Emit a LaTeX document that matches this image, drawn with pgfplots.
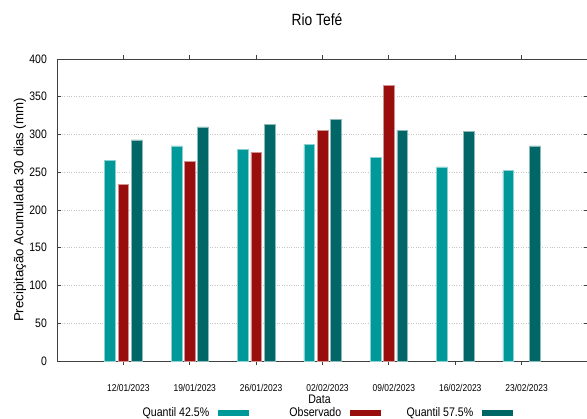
\documentclass[border=0pt]{standalone}
\usepackage{fontspec}
\setmainfont{Liberation Sans}[FakeStretch=0.85]
\newfontfamily\ylabfont{Liberation Sans}
\usepackage{pgfplots}
\pgfplotsset{compat=1.18}

\definecolor{qlow}{HTML}{009999}
\definecolor{obs}{HTML}{990D0D}
\definecolor{qhigh}{HTML}{006666}
\definecolor{axisgray}{HTML}{404040}

\begin{document}
\begin{tikzpicture}
\begin{axis}[
  scale only axis,
  width=531bp, height=302bp,
  xmin=-1, xmax=7,
  ymin=0, ymax=400,
  ytick={0,50,...,400},
  xtick={0,...,6},
  xticklabels={12/01/2023,19/01/2023,26/01/2023,02/02/2023,09/02/2023,16/02/2023,23/02/2023},
  tick align=inside,
  major tick length=4bp,
  tick style={axisgray, line width=0.8bp},
  axis line style={axisgray, line width=0.9bp},
  ymajorgrids,
  grid style={gray!45, dotted, line width=0.8bp},
  /pgf/number format/assume math mode=true,
  ticklabel style={inner sep=0pt},
  yticklabel style={font=\fontsize{12.3}{14}\selectfont, anchor=east, xshift=-10bp},
  xticklabel style={font=\fontsize{10}{11}\selectfont, anchor=center, yshift=-22.5bp, xshift=5bp},
  ybar=2.6bp,
  bar width=10.7bp,
  every axis plot post/.append style={
    legend image code/.code={
      \fill[##1,draw=none] (0bp,-3bp) rectangle (31bp,3bp);}},
  title={Rio Tefé},
  title style={font=\fontsize{16.3}{18}\selectfont, at={(axis description cs:0.4896,1.0927)}, anchor=base, inner sep=0pt},
  xlabel={Data},
  xlabel style={font=\fontsize{12.5}{14}\selectfont, at={(axis description cs:0.4944,-0.1258)}, anchor=center, inner sep=0pt},
  ylabel={Precipitação Acumulada 30 dias (mm)},
  ylabel style={font=\ylabfont\fontsize{13.3}{15}\selectfont, at={(axis description cs:-0.0697,0.5)}, anchor=center, inner sep=0pt},
  legend columns=3,
  legend plot pos=right,
  legend style={draw=none, fill=none, inner sep=0pt, column sep=0pt,
    nodes={inner sep=0pt}, font=\fontsize{12.5}{14}\selectfont,
    at={(axis description cs:0.113,-0.172)}, anchor=west},
]

% Quantil 42.5%
\addplot[fill=qlow, draw=qlow!45!white, line width=0.5bp] coordinates {
  (0,266) (1,285) (2,280) (3,286.5) (4,270) (5,257) (6,252)
};
\addlegendentry{\makebox[101bp][r]{Quantil 42.5\%\hspace{9bp}}}

% Observado
\addplot[fill=obs, draw=obs!45!white, line width=0.5bp] coordinates {
  (0,234) (1,264.5) (2,276.5) (3,305.5) (4,365.5)
};
\addlegendentry{\makebox[101bp][r]{Observado\hspace{9bp}}}

% Quantil 57.5%
\addplot[fill=qhigh, draw=qhigh!45!white, line width=0.5bp] coordinates {
  (0,293) (1,310) (2,313.5) (3,320) (4,305.5) (5,304) (6,285)
};
\addlegendentry{\makebox[101bp][r]{Quantil 57.5\%\hspace{9bp}}}

\end{axis}
\pgfresetboundingbox
\path[use as bounding box] (-57bp,-58bp) rectangle (530bp,361bp);
\end{tikzpicture}
\end{document}
